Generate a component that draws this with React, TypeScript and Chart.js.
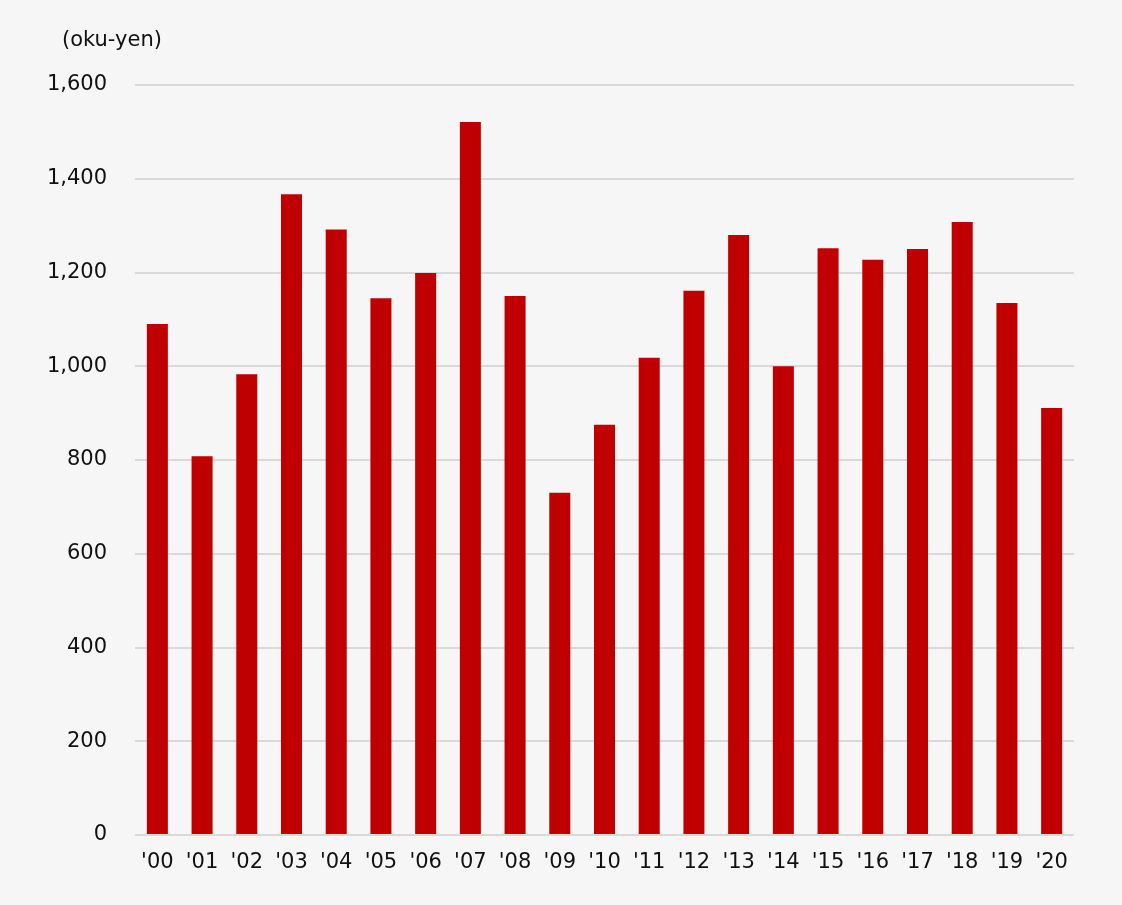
import React, { useEffect, useRef } from "react";
import { Chart, registerables } from "chart.js";

Chart.register(...registerables);

const categories = ["'00", "'01", "'02", "'03", "'04", "'05", "'06", "'07", "'08", "'09", "'10", "'11", "'12", "'13", "'14", "'15", "'16", "'17", "'18", "'19", "'20"];
const values = [1090, 808, 983, 1367, 1292, 1145, 1199, 1521, 1150, 730, 875, 1018, 1161, 1280, 1000, 1252, 1227, 1250, 1308, 1135, 911];
const unitLabel = "(oku-yen)";
const yMax = 1600;
const yStep = 200;

const FONT = "'DejaVu Sans', Verdana, sans-serif";

export default function App() {
  const ref = useRef<HTMLCanvasElement | null>(null);

  useEffect(() => {
    document.body.style.margin = "0";
    document.body.style.background = "#f6f6f6";
    const canvas = ref.current;
    if (!canvas) return;

    const unitPlugin = {
      id: "unitLabel",
      afterDraw(chart: any) {
        const ctx = chart.ctx;
        ctx.save();
        ctx.font = `21px ${FONT}`;
        ctx.fillStyle = "#111111";
        ctx.textAlign = "left";
        ctx.textBaseline = "middle";
        ctx.fillText(unitLabel, 62, 41);
        ctx.restore();
      },
    };

    const bgPlugin = {
      id: "bg",
      beforeDraw(chart: any) {
        const ctx = chart.ctx;
        ctx.save();
        ctx.fillStyle = "#f6f6f6";
        ctx.fillRect(0, 0, chart.width, chart.height);
        ctx.restore();
      },
    };

    const chart = new Chart(canvas, {
      type: "bar",
      data: {
        labels: categories,
        datasets: [
          {
            data: values,
            backgroundColor: "#c00000",
            borderWidth: 0,
            barPercentage: 0.47,
            categoryPercentage: 1,
          },
        ],
      },
      options: {
        animation: false,
        responsive: false,
        maintainAspectRatio: false,
        devicePixelRatio: 1,
        layout: { padding: { top: 85, right: 48, left: 0, bottom: 0 } },
        plugins: {
          legend: { display: false },
          tooltip: { enabled: false },
          title: { display: false },
        },
        scales: {
          x: {
            grid: { display: false, drawTicks: false },
            border: { display: false },
            ticks: {
              font: { family: FONT, size: 21 },
              color: "#111111",
              padding: 15,
              maxRotation: 0,
              autoSkip: false,
            },
            afterFit(scale: any) {
              scale.height = 70;
            },
          },
          y: {
            min: 0,
            max: yMax,
            grid: { color: "#d9d9d9", lineWidth: 2, drawTicks: false },
            border: { display: false },
            ticks: {
              stepSize: yStep,
              font: { family: FONT, size: 21 },
              color: "#111111",
              padding: 28,
              callback: (v: any) => Number(v).toLocaleString("en-US"),
            },
            afterFit(scale: any) {
              scale.width = 135;
            },
          },
        },
      },
      plugins: [bgPlugin, unitPlugin],
    });

    return () => chart.destroy();
  }, []);

  return (
    <div style={{ width: 1122, height: 905 }}>
      <canvas ref={ref} width={1122} height={905} style={{ display: "block" }} />
    </div>
  );
}
